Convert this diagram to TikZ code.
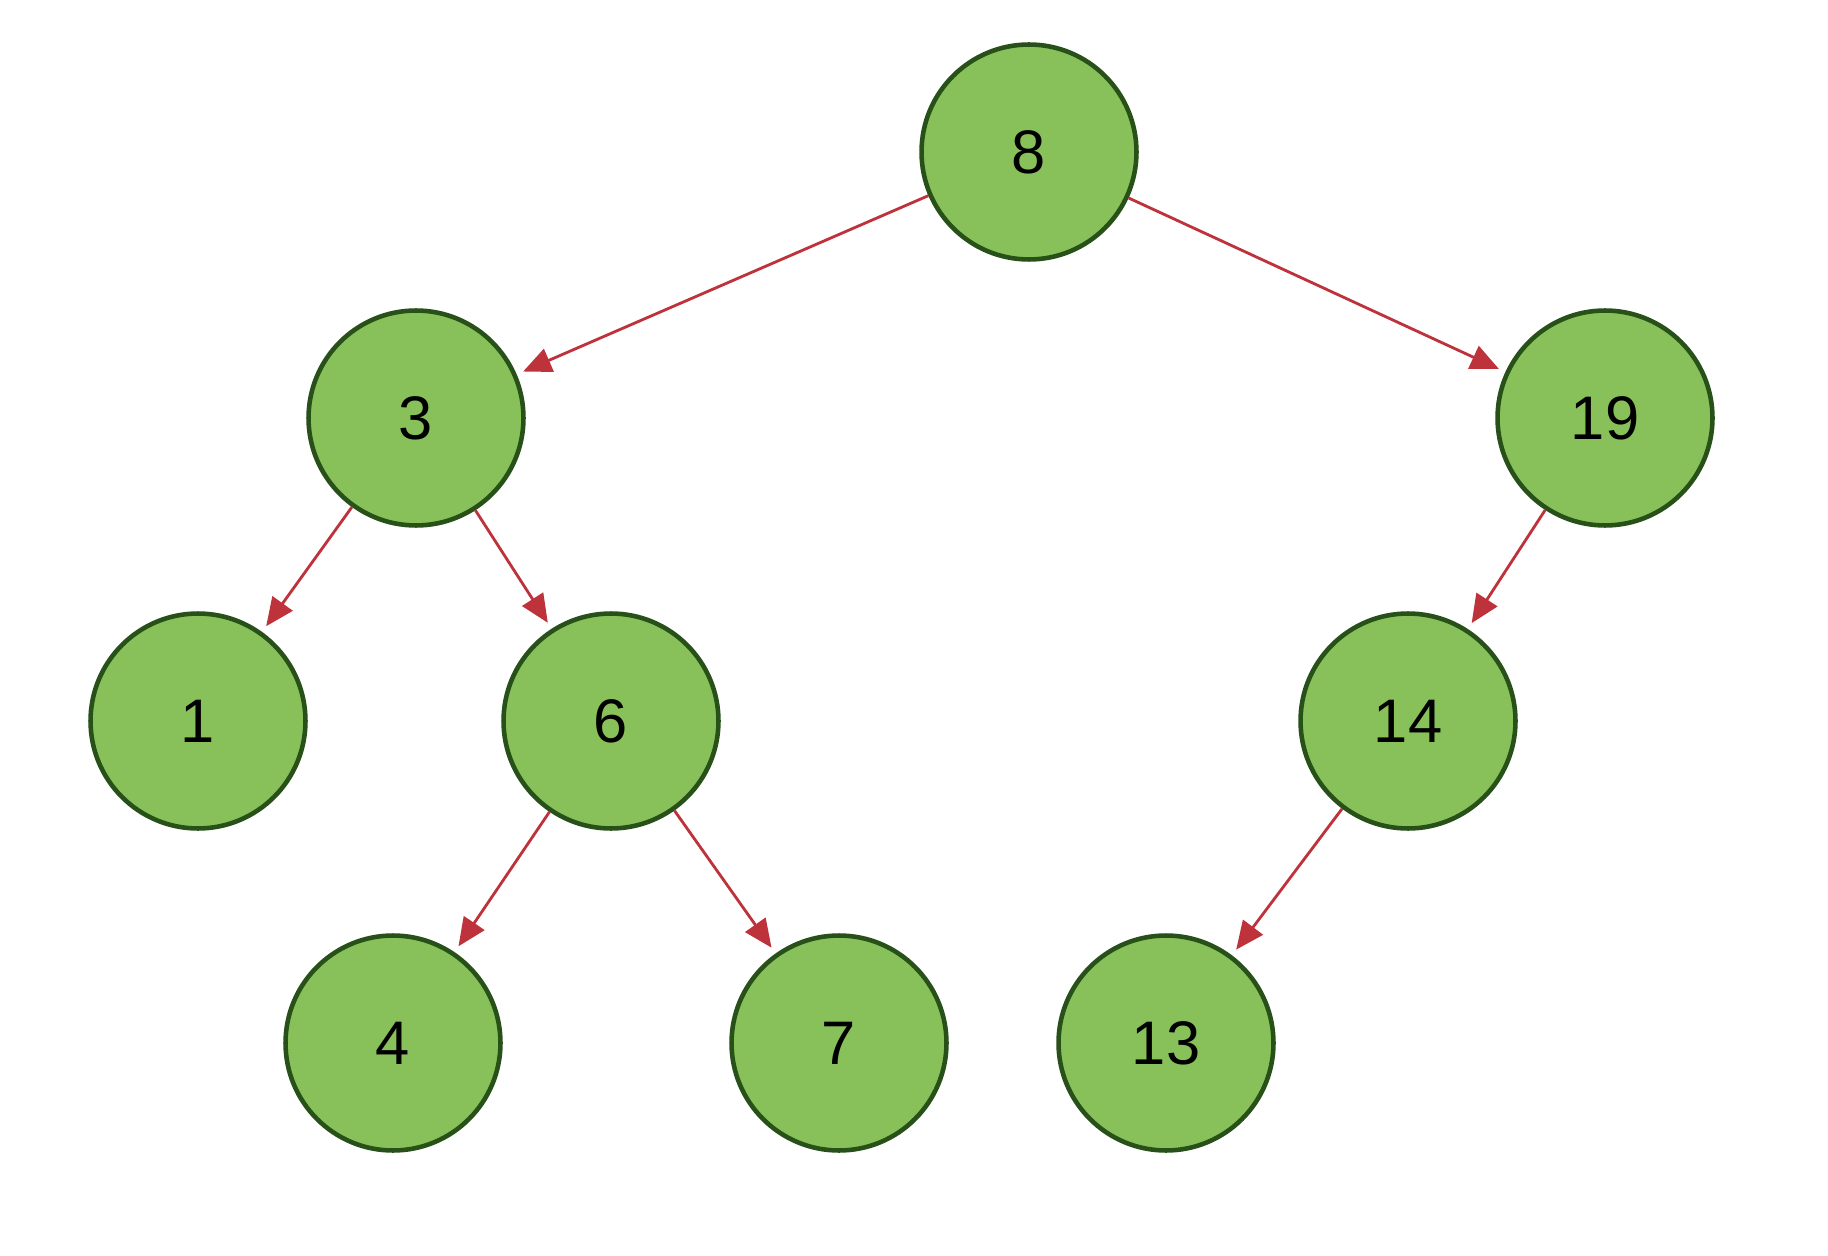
\documentclass[tikz,border=0pt]{standalone}
\usepackage{fontspec}
\setmainfont{Liberation Sans}
\usetikzlibrary{arrows.meta}
\definecolor{nodefill}{RGB}{136,192,90}
\definecolor{nodeline}{RGB}{40,80,25}
\definecolor{edgecol}{RGB}{190,50,60}
\begin{document}
\begin{tikzpicture}[x=0.02cm,y=-0.02cm,
  tnode/.style={circle,draw=nodeline,fill=nodefill,line width=2.6pt,minimum size=4.3cm,inner sep=0pt,font=\fontsize{35}{38}\selectfont},
  edge/.style={draw=edgecol,line width=1.6pt,-{Triangle[length=16pt,width=14pt]},shorten >=4pt}]
\useasboundingbox (0,0) rectangle (1828,1256);
\fill[white] (0,0) rectangle (1828,1256);
\node[tnode] (n8) at (1029,152) {8};
\node[tnode] (n3) at (416,418) {3};
\node[tnode] (n19) at (1605,418) {19};
\node[tnode] (n1) at (198,721) {1};
\node[tnode] (n6) at (611,721) {6};
\node[tnode] (n14) at (1408,721) {14};
\node[tnode] (n4) at (393,1043) {4};
\node[tnode] (n7) at (839,1043) {7};
\node[tnode] (n13) at (1166,1043) {13};
\draw[edge] (n8) -- (n3);
\draw[edge] (n8) -- (n19);
\draw[edge] (n3) -- (n1);
\draw[edge] (n3) -- (n6);
\draw[edge] (n19) -- (n14);
\draw[edge] (n6) -- (n4);
\draw[edge] (n6) -- (n7);
\draw[edge] (n14) -- (n13);
\end{tikzpicture}
\end{document}
